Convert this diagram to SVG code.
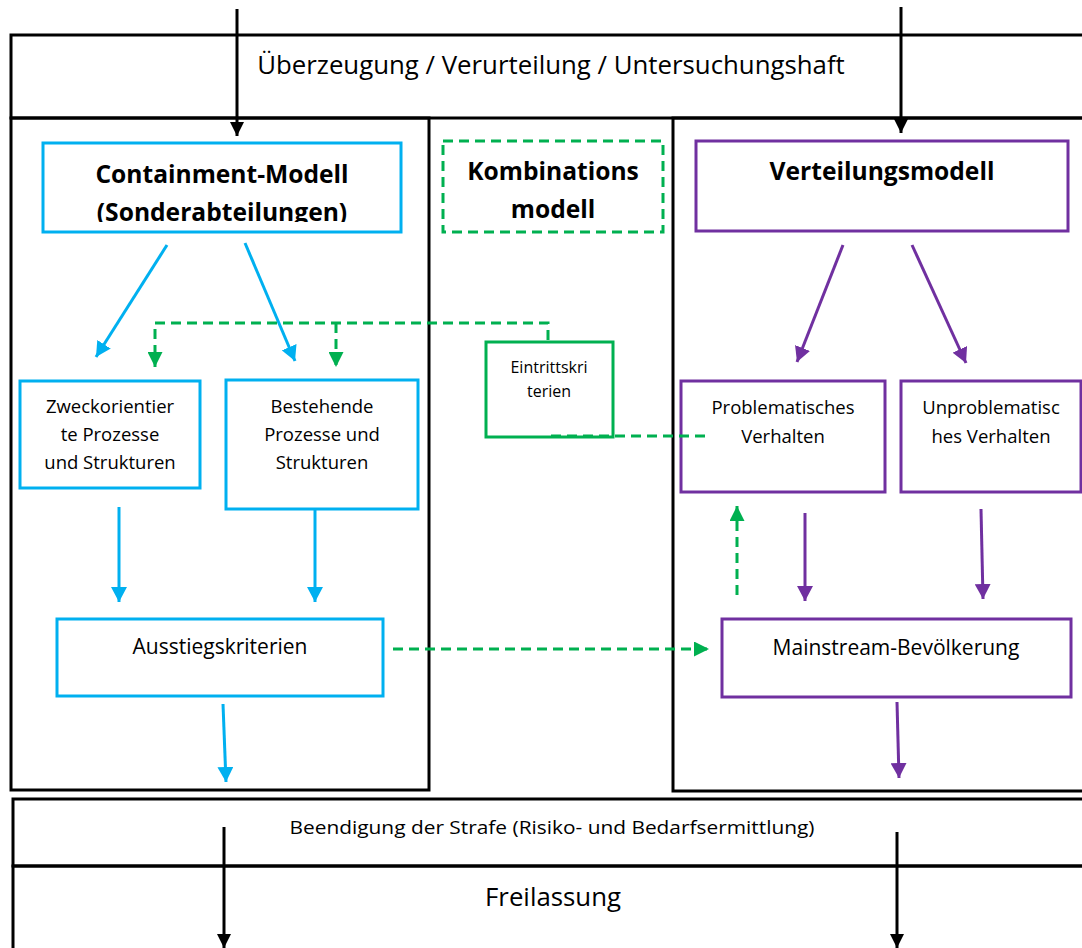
<svg xmlns="http://www.w3.org/2000/svg" width="1082" height="948" viewBox="0 0 1082 948">
<style>
text{font-family:"Open Sans","Liberation Sans",sans-serif;fill:#000;text-anchor:middle}
.frame{fill:none;stroke:#000;stroke-width:3}
.blue{fill:#fff;stroke:#00B0F0;stroke-width:3}
.purple{fill:#fff;stroke:#7030A0;stroke-width:3}
.green{fill:#fff;stroke:#00B050;stroke-width:3}
.gdash{fill:none;stroke:#00B050;stroke-width:3;stroke-dasharray:10 6}
.big{font-size:25.8px}
.head{font-size:24.6px;font-weight:bold}
.lbl{font-size:18.5px}
.sm{font-size:16px}
.mid{font-size:21px}
.end{font-size:19px}
.ak{fill:none;stroke:#000;stroke-width:3}
.ab{fill:none;stroke:#00B0F0;stroke-width:3}
.ap{fill:none;stroke:#7030A0;stroke-width:3}
</style>
<defs>
<marker id="mk" markerUnits="userSpaceOnUse" markerWidth="15" markerHeight="14" refX="14" refY="7" orient="auto"><path d="M0,0 L14,7 L0,14 z" fill="#000"/></marker>
<marker id="mb" markerUnits="userSpaceOnUse" markerWidth="16" markerHeight="16" refX="15" refY="8" orient="auto"><path d="M0,0 L15,8 L0,16 z" fill="#00B0F0"/></marker>
<marker id="mp" markerUnits="userSpaceOnUse" markerWidth="16" markerHeight="16" refX="15" refY="8" orient="auto"><path d="M0,0 L15,8 L0,16 z" fill="#7030A0"/></marker>
<marker id="mg" markerUnits="userSpaceOnUse" markerWidth="16" markerHeight="15" refX="15" refY="7.5" orient="auto"><path d="M0,0 L15,7.5 L0,15 z" fill="#00B050"/></marker>
<clipPath id="clipC"><rect x="43" y="143" width="358" height="79"/></clipPath>
</defs>

<rect width="1082" height="948" fill="#fff"/>

<g id="frames">
<rect id="top-box" class="frame" x="11" y="35" width="1100" height="83"/>
<rect id="left-column" class="frame" x="11" y="118" width="418" height="672"/>
<rect id="right-column" class="frame" x="673" y="118" width="450" height="673"/>
<rect id="end-box" class="frame" x="13" y="799" width="1100" height="67"/>
<rect id="release-box" class="frame" x="13" y="866" width="1100" height="100"/>
</g>

<g id="stage-top"><text class="big" x="551" y="74">Überzeugung / Verurteilung / Untersuchungshaft</text></g>

<g id="containment">
<rect class="blue" x="43" y="143" width="358" height="89"/>
<g clip-path="url(#clipC)">
<text class="head" x="222" y="183">Containment-Modell</text>
<text class="head" x="222" y="221">(Sonderabteilungen)</text>
</g>
</g>

<g id="kombination">
<rect class="gdash" x="443" y="141" width="220" height="91"/>
<text class="head" x="553" y="180">Kombinations</text>
<text class="head" x="553" y="218">modell</text>
</g>

<g id="verteilung">
<rect class="purple" x="696" y="141" width="372" height="90"/>
<text class="head" x="882" y="180">Verteilungsmodell</text>
</g>

<g id="zweck">
<rect class="blue" x="20" y="381" width="180" height="107"/>
<text class="lbl" x="110" y="413">Zweckorientier</text>
<text class="lbl" x="110" y="441">te Prozesse</text>
<text class="lbl" x="110" y="469">und Strukturen</text>
</g>

<g id="bestehend">
<rect class="blue" x="226" y="380" width="192" height="129"/>
<text class="lbl" x="322" y="413">Bestehende</text>
<text class="lbl" x="322" y="441">Prozesse und</text>
<text class="lbl" x="322" y="469">Strukturen</text>
</g>

<g id="eintritt">
<rect class="green" x="486" y="342" width="127" height="95"/>
<text class="sm" x="549" y="373">Eintrittskri</text>
<text class="sm" x="549" y="397">terien</text>
</g>

<g id="problematisch">
<rect class="purple" x="681" y="381" width="204" height="111"/>
<text class="lbl" x="783" y="414">Problematisches</text>
<text class="lbl" x="783" y="443">Verhalten</text>
</g>

<g id="unproblematisch">
<rect class="purple" x="901" y="381" width="180" height="111"/>
<text class="lbl" x="991" y="414">Unproblematisc</text>
<text class="lbl" x="991" y="443">hes Verhalten</text>
</g>

<g id="ausstieg">
<rect class="blue" x="57" y="619" width="326" height="77"/>
<text class="mid" x="220" y="654">Ausstiegskriterien</text>
</g>

<g id="mainstream">
<rect class="purple" x="722" y="619" width="349" height="78"/>
<text class="mid" x="896" y="655">Mainstream-Bevölkerung</text>
</g>

<g id="stage-end"><text class="end" x="552" y="834" textLength="525" lengthAdjust="spacingAndGlyphs">Beendigung der Strafe (Risiko- und Bedarfsermittlung)</text></g>
<g id="stage-release"><text class="big" x="553" y="906">Freilassung</text></g>

<g id="connectors">
<line class="ak" x1="237" y1="9" x2="237" y2="136" marker-end="url(#mk)"/>
<line class="ak" x1="901" y1="7" x2="901" y2="133" marker-end="url(#mk)"/>
<line class="ak" x1="224" y1="827" x2="224" y2="948" marker-end="url(#mk)"/>
<line class="ak" x1="897" y1="832" x2="897" y2="948" marker-end="url(#mk)"/>

<line class="ab" x1="167" y1="245" x2="96" y2="357" marker-end="url(#mb)"/>
<line class="ab" x1="245" y1="243" x2="295" y2="361" marker-end="url(#mb)"/>
<line class="ab" x1="119" y1="507" x2="119" y2="602" marker-end="url(#mb)"/>
<line class="ab" x1="315" y1="509" x2="315" y2="602" marker-end="url(#mb)"/>
<line class="ab" x1="223" y1="704" x2="226" y2="782" marker-end="url(#mb)"/>

<line class="ap" x1="843" y1="245" x2="797" y2="362" marker-end="url(#mp)"/>
<line class="ap" x1="912" y1="245" x2="966" y2="363" marker-end="url(#mp)"/>
<line class="ap" x1="805" y1="513" x2="805" y2="601" marker-end="url(#mp)"/>
<line class="ap" x1="981" y1="509" x2="983" y2="599" marker-end="url(#mp)"/>
<line class="ap" x1="897" y1="702" x2="899" y2="778" marker-end="url(#mp)"/>

<path class="gdash" d="M548,340 V323 H155 V367" marker-end="url(#mg)"/>
<path class="gdash" d="M336,323 V367" marker-end="url(#mg)"/>
<path class="gdash" d="M551,436 H706"/>
<path class="gdash" d="M393,649 H709" marker-end="url(#mg)"/>
<path class="gdash" d="M737,595 V506" marker-end="url(#mg)"/>
</g>
</svg>
